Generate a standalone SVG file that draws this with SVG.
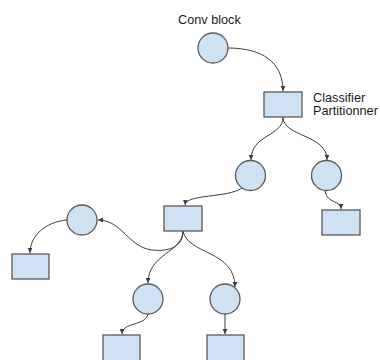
<svg xmlns="http://www.w3.org/2000/svg" width="380" height="360" viewBox="0 0 380 360">
  <defs>
    <marker id="arrow" markerWidth="6" markerHeight="6" refX="5" refY="3" orient="auto" markerUnits="userSpaceOnUse">
      <path d="M0,0.6 L5,3 L0,5.4 Z" fill="#3d3d3d"/>
    </marker>
    <style>
      .node { fill: #cfe2f3; stroke: #595959; stroke-width: 1.3; }
      .edge { fill: none; stroke: #3d3d3d; stroke-width: 1; marker-end: url(#arrow); }
      .label { font-family: "Liberation Sans", Arial, sans-serif; font-size: 12.7px; fill: #1a1a1a; }
    </style>
  </defs>
  <rect width="380" height="360" fill="#ffffff"/>

  <g id="connectors">
    <path class="edge" d="M228,48 C262,48 283,62 283,91"/>
    <path class="edge" d="M283,117 C283,137 251,134 251,160"/>
    <path class="edge" d="M283,117 C283,137 327,134 327,160"/>
    <path class="edge" d="M242,188 C228,198 186,194 185,205"/>
    <path class="edge" d="M325,191 C327,204 341,200 341,209"/>
    <path class="edge" d="M183,231 C183,245 172,252 152,250 C128,247 122,220 98,220"/>
    <path class="edge" d="M67,220 C45,222 30,236 30,253"/>
    <path class="edge" d="M183,231 C183,252 148,254 148,283"/>
    <path class="edge" d="M183,231 C188,255 235,250 235,287"/>
    <path class="edge" d="M148,314 C146,326 122,322 122,334"/>
    <path class="edge" d="M225,314 L225,334"/>
  </g>

  <g id="conv-block">
    <circle class="node" cx="213" cy="48" r="15"/>
    <text class="label" x="178" y="24">Conv block</text>
  </g>
  <g id="classifier">
    <rect class="node" x="264" y="92" width="38" height="25"/>
    <text class="label" x="313" y="102">Classifier</text>
    <text class="label" x="313" y="115">Partitionner</text>
  </g>
  <g id="circle-left">
    <circle class="node" cx="250.5" cy="175.5" r="15"/>
  </g>
  <g id="circle-right">
    <circle class="node" cx="326.5" cy="175.5" r="15"/>
  </g>
  <g id="leaf-right">
    <rect class="node" x="322" y="210" width="38" height="25"/>
  </g>
  <g id="mid-block">
    <rect class="node" x="164" y="206" width="38" height="25"/>
  </g>
  <g id="circle-far-left">
    <circle class="node" cx="82" cy="220" r="15"/>
  </g>
  <g id="leaf-far-left">
    <rect class="node" x="12" y="254" width="37" height="25"/>
  </g>
  <g id="circle-low-left">
    <circle class="node" cx="148" cy="299" r="15"/>
  </g>
  <g id="circle-low-right">
    <circle class="node" cx="225" cy="299" r="15"/>
  </g>
  <g id="leaf-low-left">
    <rect class="node" x="103" y="335" width="37" height="30"/>
  </g>
  <g id="leaf-low-right">
    <rect class="node" x="207" y="335" width="37" height="30"/>
  </g>
</svg>
